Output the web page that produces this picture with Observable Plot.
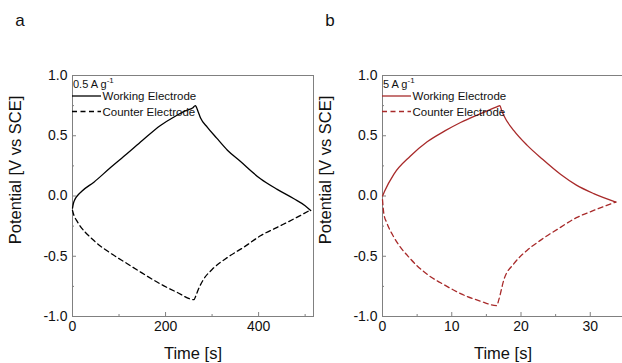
<!DOCTYPE html>
<html><head><meta charset="utf-8">
<script src="https://cdn.jsdelivr.net/npm/d3@7"></script>
<script src="https://cdn.jsdelivr.net/npm/@observablehq/plot@0.6"></script>
<style>
body{margin:0;background:#fff;}
#wrap{position:relative;width:622px;height:363px;overflow:hidden;font-family:"Liberation Sans",Arial,sans-serif;background:#fff;}
.panel{position:absolute;top:0;}
.panel svg{max-width:none;background:transparent;}
.leg{position:absolute;font-size:11.5px;line-height:12px;white-space:nowrap;color:#111;}
.leg sup{font-size:8px;vertical-align:5px;line-height:0;}
</style></head><body><div id="wrap"></div>
<script>
// Panel a: 0.5 A g-1
const aWorkT = [0, 2, 5, 10, 20, 46, 80, 117, 150, 189, 220, 245, 258, 264, 266, 270, 275, 290, 310, 333, 360, 404, 440, 476, 500, 512];
const aWorkV = [-0.10, -0.06, -0.03, 0.0, 0.04, 0.115, 0.23, 0.35, 0.46, 0.585, 0.66, 0.71, 0.73, 0.75, 0.74, 0.70, 0.65, 0.57, 0.48, 0.38, 0.29, 0.143, 0.055, -0.023, -0.08, -0.12];
const aCountT = [0, 3, 10, 46, 80, 117, 150, 189, 225, 261, 265, 270, 282, 300, 333, 370, 404, 440, 476, 512];
const aCountV = [-0.12, -0.16, -0.21, -0.37, -0.47, -0.56, -0.64, -0.73, -0.80, -0.86, -0.83, -0.78, -0.69, -0.61, -0.51, -0.42, -0.33, -0.26, -0.19, -0.115];
// Panel b: 5 A g-1
const bWorkT = [0, 0.3, 1.63, 4, 6.45, 9, 11.27, 14, 16.5, 16.95, 17.2, 17.5, 19, 20.9, 23, 25.7, 28, 30.5, 33.7];
const bWorkV = [0.0, 0.04, 0.18, 0.33, 0.45, 0.54, 0.61, 0.68, 0.74, 0.75, 0.71, 0.67, 0.54, 0.42, 0.31, 0.18, 0.09, 0.02, -0.05];
const bCountT = [0, 0.2, 0.6, 1.63, 4, 6.45, 9, 11.27, 14, 16.5, 16.8, 17.5, 19, 20.9, 23, 25.7, 28, 30.5, 33.7];
const bCountV = [-0.03, -0.15, -0.22, -0.34, -0.52, -0.65, -0.74, -0.81, -0.87, -0.91, -0.86, -0.70, -0.56, -0.45, -0.36, -0.26, -0.18, -0.12, -0.05];

const yMajor = [-1, -0.5, 0, 0.5, 1];
const yMinor = [-0.75, -0.25, 0.25, 0.75];
const aXMajor = [0, 200, 400];
const aXMinor = [100, 300, 500];
const bXMajor = [0, 10, 20, 30];
const bXMinor = [5, 15, 25];

const xLabel = "Time [s]";
const yLabel = "Potential [V vs SCE]";
const legendNames = ["Working Electrode", "Counter Electrode"];

const toRows = (T, V) => T.map((t, i) => ({t, v: V[i]}));

function panel({letter, xDomain, xMajor, xMinor, work, count, color, width}) {
  const axisCol = "#808080";
  return Plot.plot({
    width, height: 363,
    marginLeft: 72, marginRight: width === 320 ? 7 : 0, marginTop: 75, marginBottom: 47,
    style: {fontFamily: "'Liberation Sans', Arial, sans-serif", fontSize: "14px", background: "transparent", overflow: "visible", color: "#111"},
    x: {domain: xDomain},
    y: {domain: [-1, 1]},
    marks: [
      Plot.frame({stroke: axisCol, strokeWidth: 1}),
      Plot.axisX(xMajor, {tickSize: -4, tickFormat: () => "", stroke: axisCol, label: null}),
      Plot.axisX(xMinor, {tickSize: -2, tickFormat: () => "", stroke: axisCol, label: null}),
      Plot.axisX(xMajor, {tickSize: 0, tickPadding: 5, tickFormat: d => String(d), label: null, fontSize: 14}),
      Plot.axisY(yMajor, {tickSize: -4, tickFormat: () => "", stroke: axisCol, label: null}),
      Plot.axisY(yMinor, {tickSize: -2, tickFormat: () => "", stroke: axisCol, label: null}),
      Plot.axisY(yMajor, {tickSize: 0, tickPadding: 5, tickFormat: d => d.toFixed(1), label: null, fontSize: 14}),
      Plot.line(work, {x: "t", y: "v", stroke: color, strokeWidth: 1.3, curve: "monotone-x"}),
      Plot.line(count, {x: "t", y: "v", stroke: color, strokeWidth: 1.3, strokeDasharray: "5,3.5", curve: "monotone-x"}),
      Plot.text([xLabel], {text: d => d, frameAnchor: "bottom", textAnchor: "middle", lineAnchor: "middle", dy: 37, fontSize: 16.5, fill: "#111"}),
      Plot.text([yLabel], {text: d => d, frameAnchor: "left", textAnchor: "middle", lineAnchor: "middle", dx: -57, dy: -26, rotate: -90, fontSize: 16.5, fill: "#111"}),
      Plot.text([letter], {text: d => d, frameAnchor: "top-left", textAnchor: "middle", lineAnchor: "middle", dx: -52.5, dy: -55, fontSize: 17, fill: "#111"})
    ]
  });
}

const wrap = document.getElementById("wrap");
function addPanel(left, svg) {
  const d = document.createElement("div");
  d.className = "panel"; d.style.left = left + "px";
  d.appendChild(svg); wrap.appendChild(d);
}
addPanel(0, panel({letter: "a", xDomain: [0, 518], xMajor: aXMajor, xMinor: aXMinor,
  work: toRows(aWorkT, aWorkV), count: toRows(aCountT, aCountV), color: "#000", width: 320}));
addPanel(310, panel({letter: "b", xDomain: [0, 34.8], xMajor: bXMajor, xMinor: bXMinor,
  work: toRows(bWorkT, bWorkV), count: toRows(bCountT, bCountV), color: "#a82a2a", width: 313}));

function legend(left, rate, color) {
  const html = `
    <div class="leg" style="left:${left + 1}px;top:78px;font-size:11px">${rate} A g<sup>-1</sup></div>
    <svg style="position:absolute;left:${left}px;top:90px" width="30" height="30">
      <line x1="0" x2="29" y1="6" y2="6" stroke="${color}" stroke-width="1.3"/>
      <line x1="0" x2="29" y1="21.5" y2="21.5" stroke="${color}" stroke-width="1.3" stroke-dasharray="5,3.5"/>
    </svg>
    <div class="leg" style="left:${left + 30.5}px;top:90px">${legendNames[0]}</div>
    <div class="leg" style="left:${left + 30.5}px;top:105.5px">${legendNames[1]}</div>`;
  wrap.insertAdjacentHTML("beforeend", html);
}
legend(72, "0.5", "#000");
legend(382, "5", "#a82a2a");
</script></body></html>
